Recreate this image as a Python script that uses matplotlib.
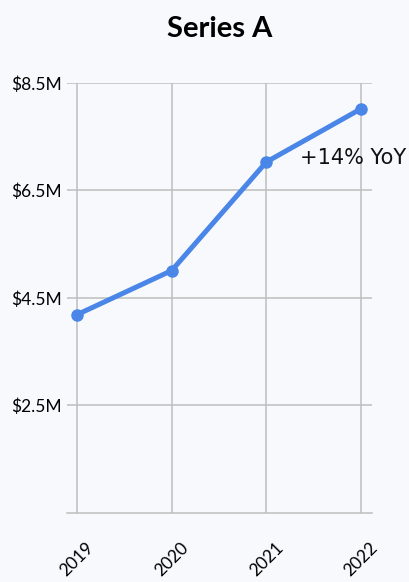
import matplotlib.pyplot as plt

# data
years = [2019, 2020, 2021, 2022]
revenue_m = [4.19, 5.01, 7.03, 8.02]
ytick_vals = [2.5, 4.5, 6.5, 8.5]
ytick_labels = ["$2.5M", "$4.5M", "$6.5M", "$8.5M"]
note = "+14% YoY"

bg = "#f8f9fd"
grid_col = "#bdbdbd"
line_col = "#4a86e8"

plt.rcParams['font.family'] = ['Lato', 'DejaVu Sans']

fig = plt.figure(figsize=(4.09, 5.82), dpi=100, facecolor=bg)
ax = fig.add_axes([0.1638, 0.1186, 0.7457, 0.7388], facecolor=bg)

ax.plot(years, revenue_m, color=line_col, lw=3.6, marker='o', ms=8,
        solid_capstyle='round', zorder=3)

ax.set_xlim(2018.894, 2022.116)
ax.set_ylim(0.5, 8.5)
ax.set_xticks(years)
ax.set_xticklabels([str(y) for y in years], rotation=45, ha='center', fontsize=12.5)
ax.set_yticks(ytick_vals)
ax.set_yticklabels(ytick_labels, fontsize=12.5)
ax.tick_params(length=0, pad=4)
ax.tick_params(axis='x', pad=19)

ax.grid(True, color=grid_col, lw=1.1)
ax.set_axisbelow(True)
for s in ['top', 'right', 'left']:
    ax.spines[s].set_visible(False)
ax.spines['bottom'].set_color(grid_col)
ax.spines['bottom'].set_linewidth(1.1)

ax.text(2021.36, 7.10, note, ha='left', va='center', fontsize=15,
        family='DejaVu Sans', color='#111111')

ax.set_title("Series A", fontsize=21, fontweight='bold', pad=33)

fig.savefig("out.png", dpi=100, facecolor=bg)
